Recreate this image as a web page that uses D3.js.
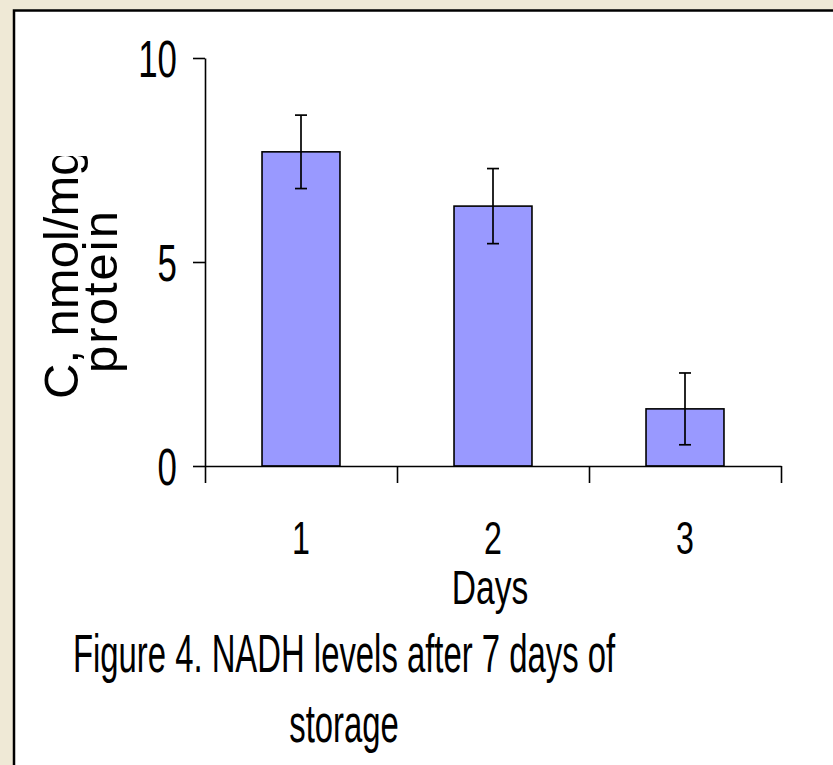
<!DOCTYPE html>
<html>
<head>
<meta charset="utf-8">
<script src="https://cdn.jsdelivr.net/npm/d3@7"></script>
<style>
  body { margin: 0; background: #efe9d6; }
  svg { display: block; }
</style>
</head>
<body>
<div id="chart"></div>
<script>
// data
const days = ['1', '2', '3'];
const nadh = [7.7, 6.37, 1.4];       // nmol/mg protein
const nadhErr = [0.9, 0.92, 0.88];
const yTicks = [0, 5, 10];
const dayEdges = [0, 1, 2, 3];

const W = 833, H = 765;
const FONT = '"Liberation Sans", Arial, sans-serif';

const svg = d3.select('#chart')
    .append('svg')
    .attr('width', W)
    .attr('height', H);

// white slide panel with black border (runs off right / bottom)
svg.append('rect')
    .attr('x', 14).attr('y', 10.5)
    .attr('width', W).attr('height', H)
    .attr('fill', '#fff')
    .attr('stroke', '#000')
    .attr('stroke-width', 2.5);

const x = d3.scaleBand()
    .domain(days)
    .range([205, 781])
    .paddingInner(0.594)
    .paddingOuter(0.297);

const edge = d3.scaleLinear().domain([0, 3]).range([205, 781]);

const y = d3.scaleLinear()
    .domain([0, 10])
    .range([466, 58]);

const g = svg.append('g');

// bars
g.selectAll('rect.bar')
    .data(nadh)
    .enter().append('rect')
    .attr('class', 'bar')
    .attr('x', (d, i) => x(days[i]))
    .attr('y', d => y(d))
    .attr('width', x.bandwidth())
    .attr('height', d => y(0) - y(d))
    .attr('fill', '#9999ff')
    .attr('stroke', '#000')
    .attr('stroke-width', 1.6);

// error bars
const cx = i => x(days[i]) + x.bandwidth() / 2;
const eb = g.selectAll('g.err')
    .data(nadh)
    .enter().append('g')
    .attr('class', 'err')
    .attr('stroke', '#000')
    .attr('stroke-width', 1.7);

eb.append('line')
    .attr('x1', (d, i) => cx(i)).attr('x2', (d, i) => cx(i))
    .attr('y1', (d, i) => y(d + nadhErr[i]))
    .attr('y2', (d, i) => y(d - nadhErr[i]));
eb.append('line')
    .attr('x1', (d, i) => cx(i) - 6).attr('x2', (d, i) => cx(i) + 6)
    .attr('y1', (d, i) => y(d + nadhErr[i]))
    .attr('y2', (d, i) => y(d + nadhErr[i]));
eb.append('line')
    .attr('x1', (d, i) => cx(i) - 6).attr('x2', (d, i) => cx(i) + 6)
    .attr('y1', (d, i) => y(d - nadhErr[i]))
    .attr('y2', (d, i) => y(d - nadhErr[i]));

// y axis
const yAxis = g.append('g')
    .attr('transform', 'translate(205,0)')
    .call(d3.axisLeft(y).tickValues(yTicks).tickSize(12).tickSizeOuter(0));

yAxis.selectAll('text')
    .attr('x', 0)
    .attr('dy', '0.36em')
    .attr('transform', 'translate(-28,0) scale(0.67,1)')
    .style('font-family', FONT)
    .style('font-size', '52px')
    .attr('fill', '#000');

// x axis: ticks at category boundaries
const xAxis = g.append('g')
    .attr('transform', `translate(0,${y(0)})`)
    .call(d3.axisBottom(edge).tickValues(dayEdges).tickFormat('').tickSize(17).tickSizeOuter(0));

g.selectAll('.domain, .tick line')
    .attr('stroke', '#000')
    .attr('stroke-width', 1.6);

// x tick labels at band centres
g.selectAll('text.day')
    .data(days)
    .enter().append('text')
    .attr('class', 'day')
    .attr('transform', (d, i) => `translate(${cx(i)},554) scale(0.7,1)`)
    .attr('text-anchor', 'middle')
    .style('font-family', FONT)
    .style('font-size', '46px')
    .text(d => d);

// x title
svg.append('text')
    .attr('transform', 'translate(490,604) scale(0.7,1)')
    .attr('text-anchor', 'middle')
    .style('font-family', FONT)
    .style('font-size', '48px')
    .text('Days');

// y title, clipped at the top like the original text box
svg.append('clipPath')
    .attr('id', 'ytitleClip')
    .append('rect')
    .attr('x', 0).attr('y', 156)
    .attr('width', 200).attr('height', 400);

const yt = svg.append('g').attr('clip-path', 'url(#ytitleClip)');
yt.append('text')
    .attr('transform', 'translate(78,399) rotate(-90)')
    .attr('text-anchor', 'start')
    .style('font-family', FONT)
    .style('font-size', '49px')
    .text('C, nmol/mg');
yt.append('text')
    .attr('transform', 'translate(117,291) rotate(-90)')
    .attr('text-anchor', 'middle')
    .style('font-family', FONT)
    .style('font-size', '49px')
    .style('letter-spacing', '2px')
    .text('protein');

// caption
const caption = ['Figure 4. NADH levels after 7 days of', 'storage'];
svg.selectAll('text.caption')
    .data(caption)
    .enter().append('text')
    .attr('class', 'caption')
    .attr('transform', (d, i) => `translate(344,${672 + i * 70}) scale(0.62,1)`)
    .attr('text-anchor', 'middle')
    .style('font-family', FONT)
    .style('font-size', '53px')
    .text(d => d);
</script>
</body>
</html>
